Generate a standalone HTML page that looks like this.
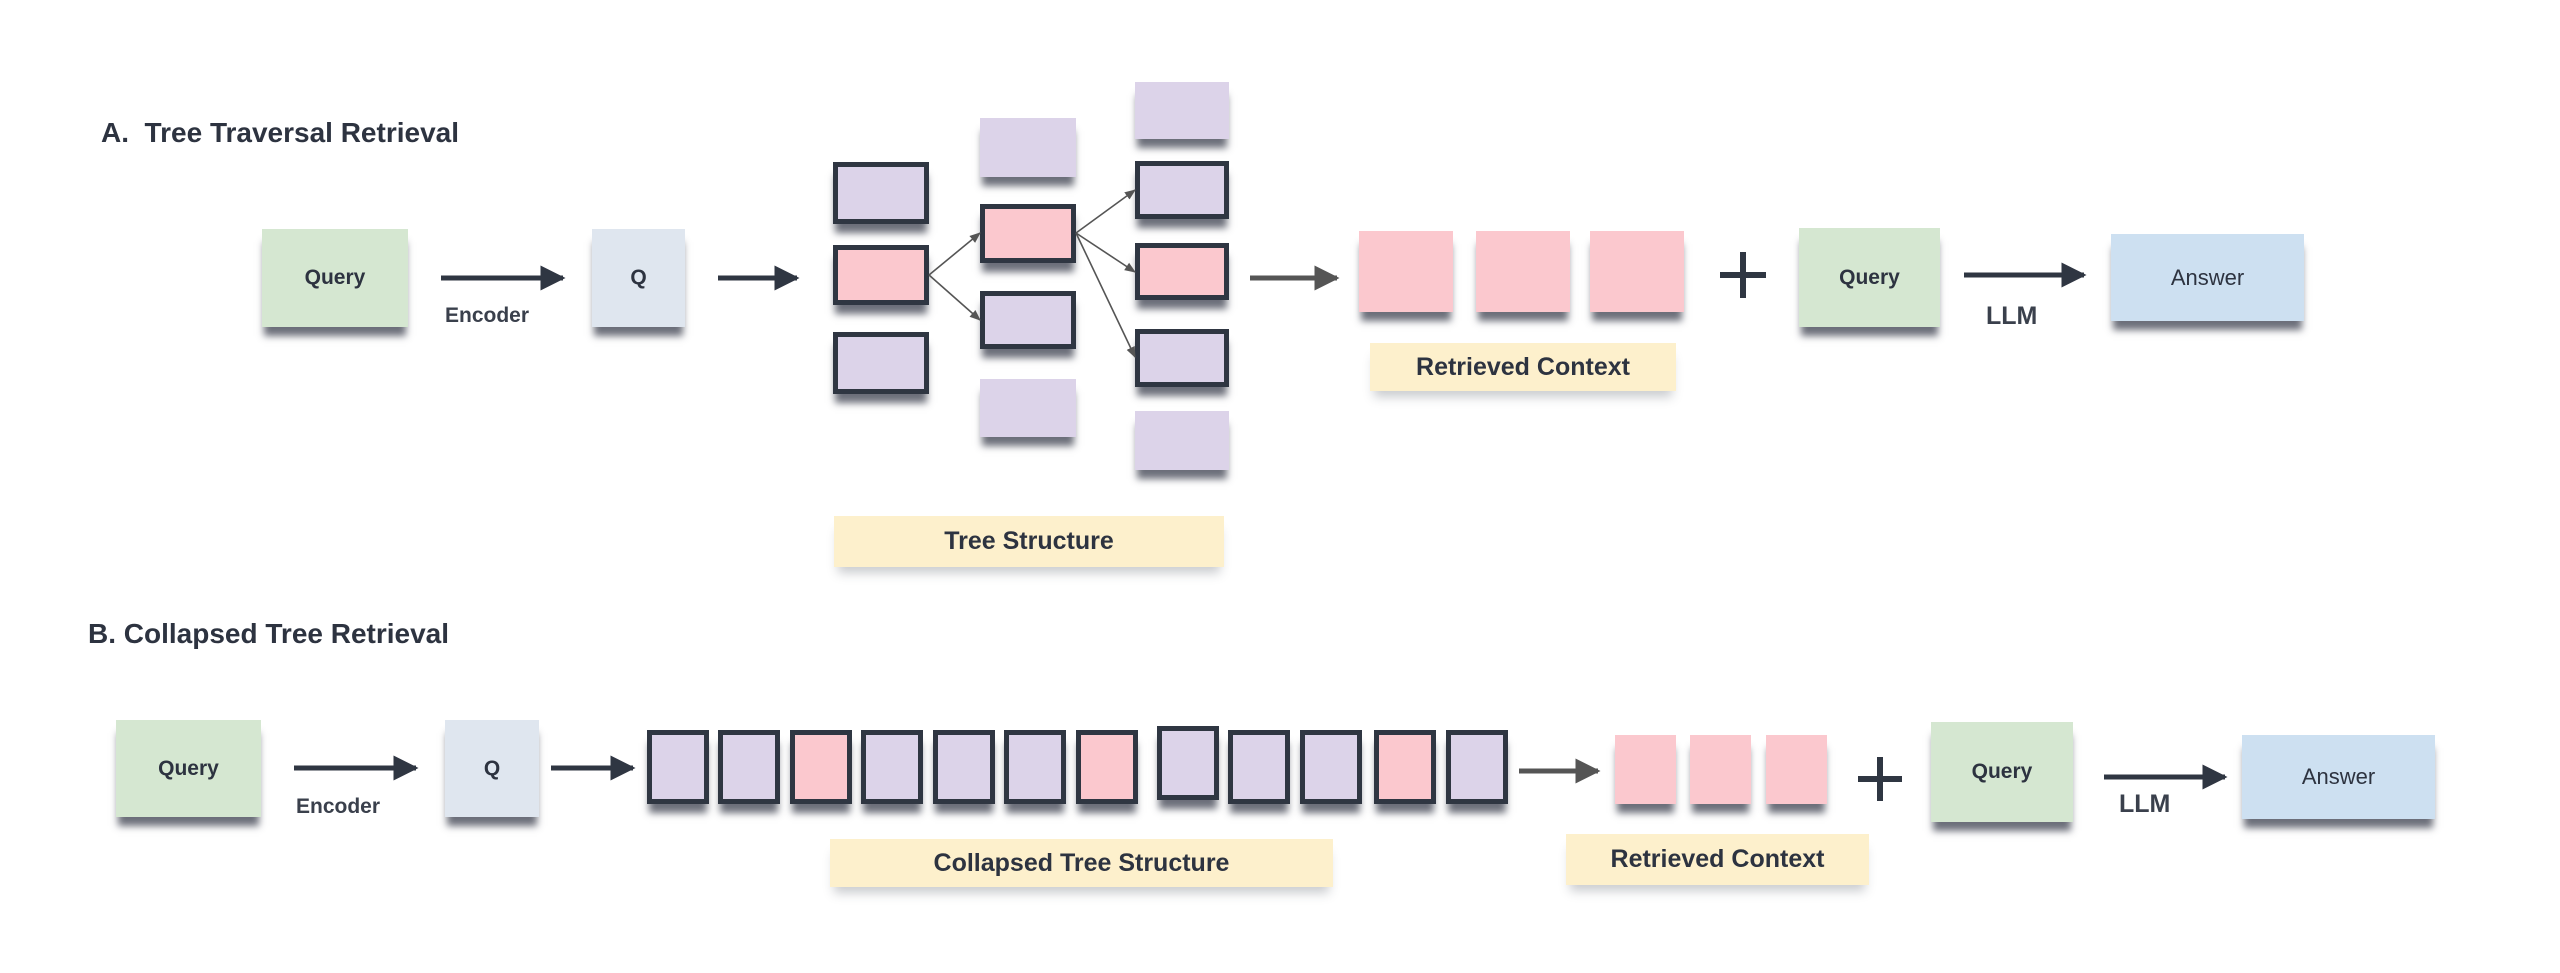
<!DOCTYPE html>
<html><head><meta charset="utf-8"><style>
body{margin:0;width:2560px;height:973px;background:#fff;position:relative;overflow:hidden;font-family:"Liberation Sans",sans-serif;color:#2d3340}
.b{position:absolute;box-sizing:border-box;box-shadow:0 11px 7px -2px rgba(45,50,65,.7);display:flex;align-items:center;justify-content:center;font-weight:bold;font-size:21px}
.g{background:#d5e7d1}.q{background:#dfe6ef}.a{background:#cde0f1;font-weight:normal;font-size:22px}
.p{background:#dcd3e9;border:5px solid #2f3642}.k{background:#fbc8ce;border:5px solid #2f3642}
.fp{background:#dcd3e9}.fk{background:#fbc8ce}
.l{background:#fdf0cc;font-size:25px;box-shadow:0 10px 10px -4px rgba(45,50,65,.25)}
.t{position:absolute;font-weight:bold;font-size:28px;white-space:nowrap}
.s{position:absolute;font-weight:bold;font-size:21px;color:#3a404c}
</style></head><body>
<div class="t" style="left:101px;top:117px">A.&nbsp; Tree Traversal Retrieval</div>
<div class="t" style="left:88px;top:618px">B. Collapsed Tree Retrieval</div>

<div class="b g" style="left:262px;top:229px;width:146px;height:98px">Query</div>
<div class="s" style="left:445px;top:304px">Encoder</div>
<div class="b q" style="left:592px;top:229px;width:93px;height:98px">Q</div>

<div class="b p" style="left:833px;top:162px;width:96px;height:62px"></div>
<div class="b k" style="left:833px;top:245px;width:96px;height:60px"></div>
<div class="b p" style="left:833px;top:332px;width:96px;height:62px"></div>

<div class="b fp" style="left:980px;top:118px;width:96px;height:59px"></div>
<div class="b k" style="left:980px;top:204px;width:96px;height:59px"></div>
<div class="b p" style="left:980px;top:291px;width:96px;height:58px"></div>
<div class="b fp" style="left:980px;top:379px;width:96px;height:58px"></div>

<div class="b fp" style="left:1135px;top:82px;width:94px;height:57px"></div>
<div class="b p" style="left:1135px;top:161px;width:94px;height:58px"></div>
<div class="b k" style="left:1135px;top:243px;width:94px;height:57px"></div>
<div class="b p" style="left:1135px;top:329px;width:94px;height:58px"></div>
<div class="b fp" style="left:1135px;top:411px;width:94px;height:59px"></div>

<div class="b l" style="left:834px;top:516px;width:390px;height:51px">Tree Structure</div>

<div class="b fk" style="left:1359px;top:231px;width:94px;height:81px"></div>
<div class="b fk" style="left:1476px;top:231px;width:94px;height:81px"></div>
<div class="b fk" style="left:1590px;top:231px;width:94px;height:81px"></div>
<div class="b l" style="left:1370px;top:343px;width:306px;height:48px">Retrieved Context</div>

<div class="b g" style="left:1799px;top:228px;width:141px;height:99px">Query</div>
<div class="s" style="left:1986px;top:302px;font-size:25px">LLM</div>
<div class="b a" style="left:2111px;top:234px;width:193px;height:87px">Answer</div>

<!-- B -->
<div class="b g" style="left:116px;top:720px;width:145px;height:97px">Query</div>
<div class="s" style="left:296px;top:795px">Encoder</div>
<div class="b q" style="left:445px;top:720px;width:94px;height:97px">Q</div>

<div class="b p" style="left:647px;top:730px;width:62px;height:74px"></div>
<div class="b p" style="left:718px;top:730px;width:62px;height:74px"></div>
<div class="b k" style="left:790px;top:730px;width:62px;height:74px"></div>
<div class="b p" style="left:861px;top:730px;width:62px;height:74px"></div>
<div class="b p" style="left:933px;top:730px;width:62px;height:74px"></div>
<div class="b p" style="left:1004px;top:730px;width:62px;height:74px"></div>
<div class="b k" style="left:1076px;top:730px;width:62px;height:74px"></div>
<div class="b p" style="left:1157px;top:726px;width:62px;height:74px"></div>
<div class="b p" style="left:1228px;top:730px;width:62px;height:74px"></div>
<div class="b p" style="left:1300px;top:730px;width:62px;height:74px"></div>
<div class="b k" style="left:1374px;top:730px;width:62px;height:74px"></div>
<div class="b p" style="left:1446px;top:730px;width:62px;height:74px"></div>
<div class="b l" style="left:830px;top:839px;width:503px;height:48px">Collapsed Tree Structure</div>

<div class="b fk" style="left:1615px;top:735px;width:61px;height:69px"></div>
<div class="b fk" style="left:1690px;top:735px;width:61px;height:69px"></div>
<div class="b fk" style="left:1766px;top:735px;width:61px;height:69px"></div>
<div class="b l" style="left:1566px;top:834px;width:303px;height:51px">Retrieved Context</div>

<div class="b g" style="left:1931px;top:722px;width:142px;height:100px">Query</div>
<div class="s" style="left:2119px;top:790px;font-size:25px">LLM</div>
<div class="b a" style="left:2242px;top:735px;width:193px;height:84px">Answer</div>

<svg width="2560" height="973" style="position:absolute;left:0;top:0" xmlns="http://www.w3.org/2000/svg">
<defs>
<marker id="m" viewBox="0 0 10 10" refX="9" refY="5" markerWidth="5" markerHeight="5" orient="auto"><path d="M0,0 L10,5 L0,10 z" fill="#2f3642"/></marker>
<marker id="m2" viewBox="0 0 10 10" refX="9" refY="5" markerWidth="5" markerHeight="5" orient="auto"><path d="M0,0 L10,5 L0,10 z" fill="#555"/></marker>
<marker id="s" viewBox="0 0 10 10" refX="9" refY="5" markerWidth="7" markerHeight="7" orient="auto"><path d="M0,1 L10,5 L0,9 z" fill="#555"/></marker>
</defs>
<g stroke="#2f3642" stroke-width="5" fill="none" marker-end="url(#m)">
<line x1="441" y1="278" x2="563" y2="278"/>
<line x1="718" y1="278" x2="797" y2="278"/>
<line x1="1964" y1="275" x2="2084" y2="275"/>
<line x1="294" y1="768" x2="416" y2="768"/>
<line x1="551" y1="768" x2="633" y2="768"/>
<line x1="2104" y1="777" x2="2225" y2="777"/>
</g>
<g stroke="#555" stroke-width="5" fill="none" marker-end="url(#m2)">
<line x1="1250" y1="278" x2="1337" y2="278"/>
<line x1="1519" y1="771" x2="1598" y2="771"/>
</g>
<g stroke="#555" stroke-width="1.6" fill="none" marker-end="url(#s)">
<line x1="929" y1="275" x2="980" y2="233"/>
<line x1="929" y1="275" x2="980" y2="320"/>
<line x1="1076" y1="233" x2="1135" y2="190"/>
<line x1="1076" y1="233" x2="1135" y2="272"/>
<line x1="1076" y1="233" x2="1135" y2="357"/>
</g>
<g stroke="#2f3642" stroke-width="6">
<line x1="1743" y1="252" x2="1743" y2="298"/><line x1="1720" y1="275" x2="1766" y2="275"/>
<line x1="1880" y1="757" x2="1880" y2="801"/><line x1="1858" y1="779" x2="1902" y2="779"/>
</g>
</svg>
</body></html>
